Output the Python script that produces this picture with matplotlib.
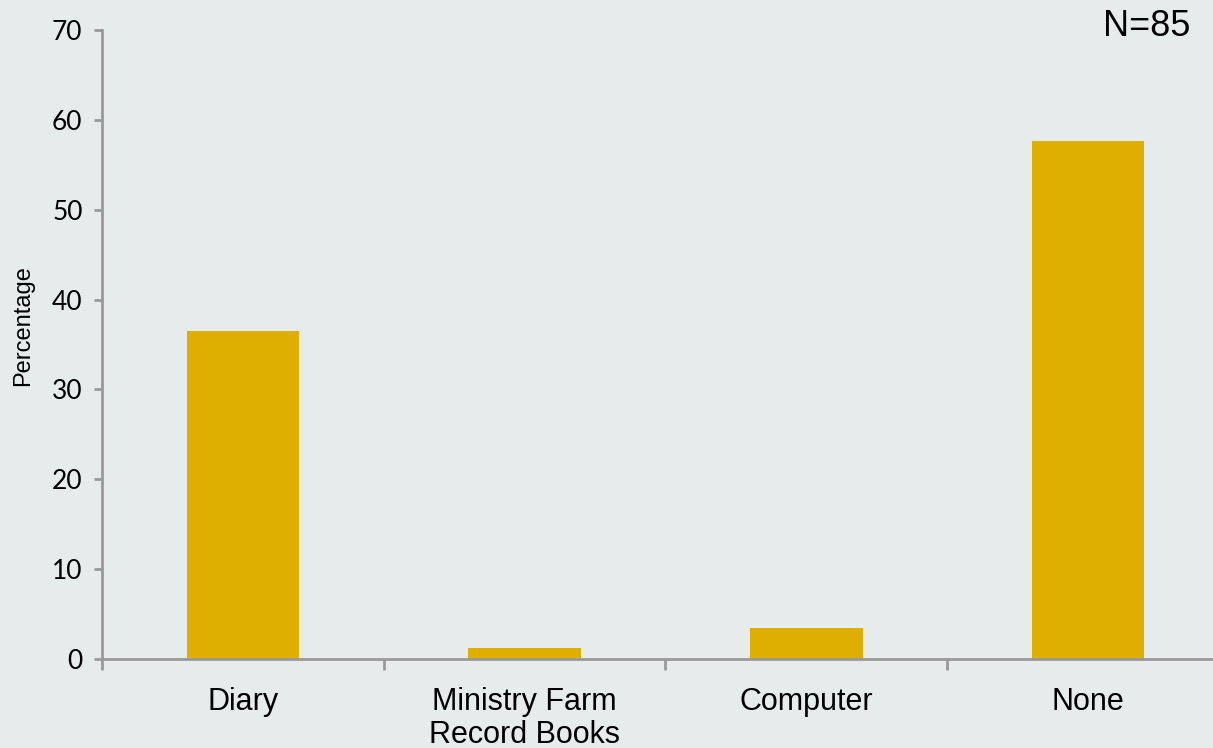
import numpy as np
import matplotlib.pyplot as plt

categories = ["Diary", "Ministry Farm\nRecord Books", "Computer", "None"]
percentages = [36.5, 1.2, 3.5, 57.6]
y_ticks = [0, 10, 20, 30, 40, 50, 60, 70]

bg = "#E6ECEC"
bar_color = "#DEAE00"
axis_gray = "#999999"

fig = plt.figure(figsize=(12.13, 7.48), dpi=100, facecolor=bg)
ax = fig.add_axes([0.0841, 0.119, 0.929, 0.841], facecolor=bg)

x = np.arange(len(categories))
ax.bar(x, percentages, width=0.4, color=bar_color)

ax.set_xlim(-0.5, len(categories) - 0.5)
ax.set_ylim(0, 70)
ax.set_yticks(y_ticks)
ax.set_yticklabels([str(v) for v in y_ticks], fontsize=19, family="Lato")

# labels sit at the centres, tick marks at the category boundaries
ax.set_xticks(x)
ax.set_xticklabels(categories, fontsize=22, family="Liberation Sans",
                   linespacing=1.15)
ax.set_xticks(np.arange(len(categories) + 1) - 0.5, minor=True)
ax.tick_params(axis="x", which="major", length=0, pad=20)
ax.tick_params(axis="x", which="minor", length=8, width=2, color=axis_gray)
ax.tick_params(axis="y", length=6, width=2, color=axis_gray, pad=8)

for side in ["top", "right"]:
    ax.spines[side].set_visible(False)
for side in ["left", "bottom"]:
    ax.spines[side].set_color(axis_gray)
    ax.spines[side].set_linewidth(2)

ax.set_ylabel("Percentage", fontsize=17, family="Liberation Sans")
ax.yaxis.set_label_coords(-0.06, 0.53)

fig.text(0.981, 0.965, "N=85", ha="right", va="center", fontsize=26,
         family="Liberation Sans")

fig.savefig("out.png", dpi=100, facecolor=bg)
